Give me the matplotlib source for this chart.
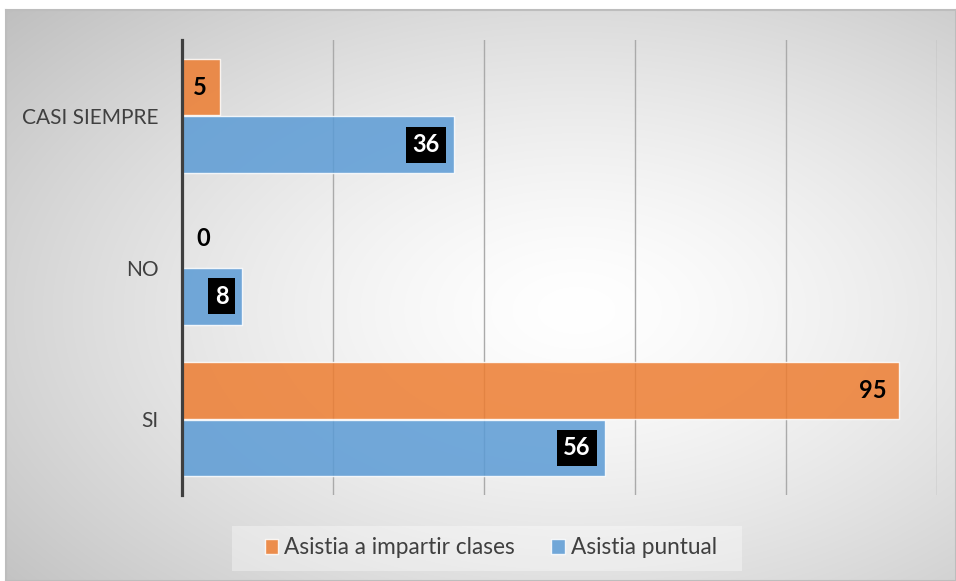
import numpy as np
import matplotlib.pyplot as plt
from matplotlib.patches import Rectangle, Patch

plt.rcParams['font.family'] = ['Lato', 'DejaVu Sans']

# data (bottom to top as drawn)
categories = ['SI', 'NO', 'CASI SIEMPRE']
asistia_clases = [95, 0, 5]
asistia_puntual = [56, 8, 36]
series_names = ['Asistia a impartir clases', 'Asistia puntual']

ORANGE = '#ED7D31'
BLUE = '#5B9BD5'

W, H = 956, 581
fig = plt.figure(figsize=(W / 100, H / 100), dpi=100)

# radial grey background panel
bg = fig.add_axes([6 / W, 0, 1 - 6 / W, 1 - 10 / H])
gh, gw = 571, 950
yy, xx = np.mgrid[0:gh, 0:gw]
d = np.sqrt(((xx - 570) / gw) ** 2 + ((yy - 300) / gh) ** 2)
gray = 255 - 64 * np.clip(d / 0.8, 0, 1) ** 1.4
img = np.dstack([gray, gray, gray]) / 255
bg.imshow(img, aspect='auto', interpolation='bilinear')
bg.set_xticks([])
bg.set_yticks([])
for s in bg.spines.values():
    s.set_color('#bdbdbd')
    s.set_linewidth(1.5)

# main axes
ax = fig.add_axes([182 / W, 1 - 495 / H, (937 - 182) / W, 455 / H])
ax.patch.set_visible(False)
ypos = np.arange(len(categories))
bh = 0.375
off = 0.19

ax.barh(ypos + off, asistia_clases, height=bh, color=ORANGE, alpha=0.85,
        edgecolor='white', linewidth=1, zorder=2)
ax.barh(ypos - off, asistia_puntual, height=bh, color=BLUE, alpha=0.85,
        edgecolor='white', linewidth=1, zorder=2)

ax.set_xlim(0, 100)
ax.set_ylim(-0.5, 2.5)
ax.set_xticks(range(0, 101, 20))
ax.set_xticklabels([])
ax.tick_params(axis='x', length=0)
ax.grid(axis='x', color='#aaaaaa', linewidth=1)
ax.set_axisbelow(True)

ax.set_yticks(ypos)
ax.set_yticklabels(categories, fontsize=15, color='#404040')
ax.tick_params(axis='y', length=0, pad=17)

for side in ['top', 'right', 'bottom']:
    ax.spines[side].set_visible(False)
ax.spines['left'].set_color('#3f3f3f')
ax.spines['left'].set_linewidth(2.3)
ax.spines['left'].set_zorder(3)

# value labels
for v, y in zip(asistia_clases, ypos + off):
    dx = 28 if v == 0 else -13
    ax.annotate(str(v), xy=(v, y), xytext=(dx, 0), textcoords='offset pixels',
                ha='right', va='center', fontsize=17, fontweight='bold',
                color='black', zorder=4)
for v, y in zip(asistia_puntual, ypos - off):
    ax.annotate(str(v), xy=(v, y), xytext=(-14, 0), textcoords='offset pixels',
                ha='right', va='center', fontsize=17, fontweight='bold',
                color='white', zorder=4,
                bbox=dict(boxstyle='square,pad=0.28', fc='black', ec='none'))

# legend
fig.patches.append(Rectangle((232 / W, 10 / H), 510 / W, 45 / H,
                             transform=fig.transFigure, facecolor='white',
                             alpha=0.35, edgecolor='none'))
handles = [Patch(facecolor=ORANGE, alpha=0.85, edgecolor='white'),
           Patch(facecolor=BLUE, alpha=0.85, edgecolor='white')]
fig.legend(handles, series_names, loc='center', bbox_to_anchor=(491 / W, 33 / H),
           ncol=2, frameon=False, fontsize=16.3, handlelength=0.58,
           handleheight=0.58, handletextpad=0.27, columnspacing=1.6,
           labelcolor='#404040')

fig.savefig('out.png', dpi=100)
